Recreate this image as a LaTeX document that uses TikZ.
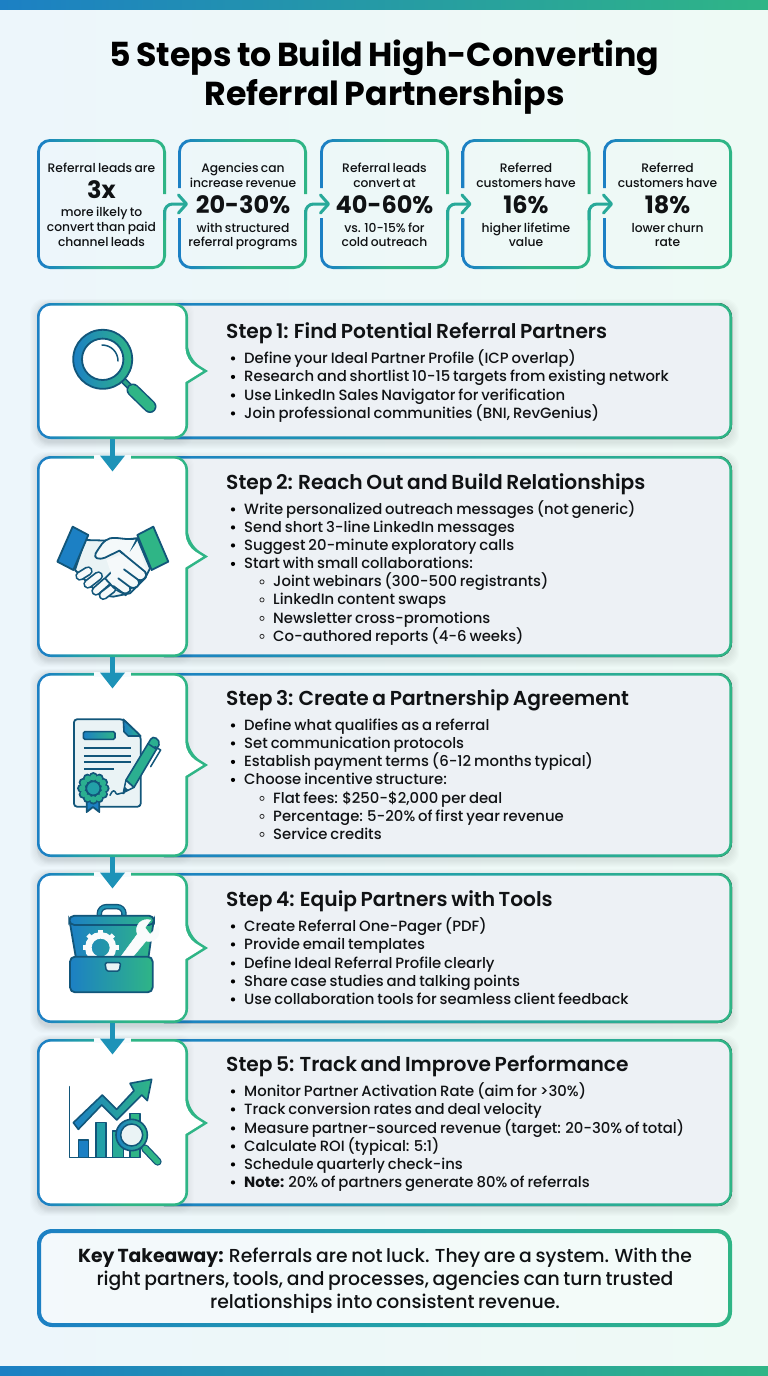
\documentclass[tikz,border=0pt]{standalone}
\usepackage{fontspec}
\usetikzlibrary{arrows.meta,calc}
\setmainfont{Poppins Medium}[BoldFont=Poppins Bold,WordSpace=0.75]
\newfontfamily\semib{Poppins SemiBold}[WordSpace=0.75]
\newfontfamily\boldf{Poppins Bold}[WordSpace=0.75]
\definecolor{cb}{HTML}{1C80C4}
\definecolor{cm}{HTML}{22A0A8}
\definecolor{cg}{HTML}{2FB586}
\definecolor{ico}{HTML}{12567A}
\definecolor{stemc}{HTML}{1E93B8}
\definecolor{lite}{HTML}{EAF3F5}
\definecolor{cardc}{HTML}{EDF1F5}
\definecolor{txt}{HTML}{101214}
\definecolor{bgl}{HTML}{EDF6FB}
\definecolor{bgr}{HTML}{EEFAF5}
\pgfdeclarehorizontalshading{wide}{100bp}{color(0bp)=(cb); color(25bp)=(cb); color(50bp)=(cm); color(75bp)=(cg); color(100bp)=(cg)}
\pgfdeclarehorizontalshading{tight}{100bp}{color(0bp)=(cb); color(27bp)=(cb); color(38bp)=(cm); color(52bp)=(cg); color(100bp)=(cg)}
\pgfdeclarehorizontalshading{icon}{100bp}{color(0bp)=(cb); color(25bp)=(cb); color(75bp)=(cg); color(100bp)=(cg)}
\tikzset{
 stattxt/.style={anchor=base,font=\fontsize{12.3}{14}\selectfont,text=txt,inner sep=0pt},
 statnum/.style={anchor=base,font=\boldf\fontsize{24}{28}\selectfont,text=txt,inner sep=0pt},
 stepttl/.style={anchor=base west,font=\semib\fontsize{20.2}{24}\selectfont,text=txt,inner sep=0pt},
 buline/.style={anchor=base west,font=\fontsize{14.85}{18}\selectfont,text=txt,inner sep=0pt},
 keytxt/.style={anchor=base,font=\fontsize{18.8}{23}\selectfont,text=txt,inner sep=0pt},
 ttl/.style={anchor=base,font=\boldf\fontsize{33.2}{38}\selectfont,text=black,inner sep=0pt},
 holder/.style={inner sep=0pt,outer sep=0pt,draw=none},
 statarrow/.style={draw=cm!55!cg,line width=3pt,rounded corners=8pt,-{Straight Barb[length=8pt,width=18pt,line cap=round,line join=round]}},
 stemarrow/.style={draw=stemc,line width=5.5pt,-{Triangle[length=16pt,width=24pt]}},
 dk/.style={draw=ico,line width=1.8pt,line join=round,line cap=round},
}
\newcommand\softshadow[5]{\foreach \d in {1,...,7}{\fill[black,opacity=.011,rounded corners=#5] ({#1-\d},{#2-\d+3}) rectangle ({#3+\d},{#4+\d+3});}}
\newcommand\panelfill[5]{%
 \pgfmathsetmacro\pr{14+#2}\pgfmathsetmacro\pxr{188+#2}\pgfmathsetmacro\pxl{37-#2}%
 \pgfmathsetmacro\pt{#3-#2}\pgfmathsetmacro\pb{#4+#2}%
 \pgfmathsetmacro\pa{#5-12.5-.554*#2}\pgfmathsetmacro\pc{#5+12.5+.554*#2}\pgfmathsetmacro\pcc{\pc+.01}%
 \pgfmathsetmacro\ptip{208+1.887*#2}%
 \path[#1] (100,\pt) [rounded corners=\pr pt] -- (\pxr,\pt) -- (\pxr,\pa) [sharp corners] -- (\ptip,#5) -- (\pxr,\pc) -- (\pxr,\pcc) [rounded corners=\pr pt] -- (\pxr,\pb) -- (\pxl,\pb) -- (\pxl,\pt) -- cycle;}
% step card: name, top, bottom, notch centre
\newcommand\stepcard[4]{%
 \softshadow{37}{#2}{732}{#3}{14}%
 \fill[shading=wide,rounded corners=14pt] (150,#2) rectangle (732,#3);
 \fill[cardc,rounded corners=11.5pt] (100,{#2+2.6}) rectangle (729.4,{#3-2.6});
 \foreach \d in {1,...,6}{\fill[black,opacity=.008,rounded corners=14pt] (37,{#2-\d+2}) rectangle ({188+\d},{#3+\d+2});}
 \panelfill{shading=tight}{0}{#2}{#3}{#4}%
 \panelfill{fill=white}{-2.6}{#2}{#3}{#4}%
 \node[holder,minimum width=151pt,minimum height={#3-#2}] (#1) at (112.5,{(#2+#3)/2}) {};}
\newcommand\bu[3]{\fill[black] (233,{#2-4.6}) circle (2.1pt); \node[buline] (#1) at (244,#2) {#3};}
\newcommand\su[3]{\draw[black!80,line width=.8pt] (262,{#2-4.6}) circle (2.1pt); \node[buline] (#1) at (273,#2) {#3};}
\newcommand\statbox[3]{\node[holder,minimum width=129pt,minimum height=130pt] (#1) at (#2,#3) {};}
\begin{document}
\begin{tikzpicture}[x=1pt,y=-1pt]
\useasboundingbox (0,0) rectangle (768,1376);
\shade[left color=bgl,right color=bgr] (0,0) rectangle (768,1376);
\fill[shading=icon] (0,0) rectangle (768,9);
\fill[shading=icon] (0,1366) rectangle (768,1376);
% title
\node[ttl] (title1) at (384.5,66) {5 Steps to Build High-Converting};
\node[ttl] (title2) at (384.5,105) {Referral Partnerships};
% stat boxes
\statbox{s1}{101.5}{204}\statbox{s2}{242.5}{204}\statbox{s3}{384.5}{204}\statbox{s4}{526}{204}\statbox{s5}{667.5}{204}
\begin{scope}[even odd rule]
\clip (0,0) rectangle (768,1376)
 (160,194) rectangle (170,210) (174,188) rectangle (183,218)
 (301,194) rectangle (311,210) (316,188) rectangle (325,218)
 (443,194) rectangle (453,210) (457,188) rectangle (466,218)
 (584,194) rectangle (594,210) (599,188) rectangle (608,218);
\foreach \a/\b in {37/166,178/307,320/449,461.5/590.5,603/732}{
 \path[shading=tight,even odd rule] (\a,139) [rounded corners=13pt] rectangle (\b,269) [rounded corners=10.5pt] ({\a+2.8},141.8) rectangle ({\b-2.8},266.2);
}
\end{scope}
\draw[statarrow] ($(s1.east)+(-1.4,16)$) -- ($(s1.east)+(-1.4,0)$) -- ($(s2.west)+(10,0)$);
\draw[statarrow] ($(s2.east)+(-1.4,16)$) -- ($(s2.east)+(-1.4,0)$) -- ($(s3.west)+(10,0)$);
\draw[statarrow] ($(s3.east)+(-1.4,16)$) -- ($(s3.east)+(-1.4,0)$) -- ($(s4.west)+(10,0)$);
\draw[statarrow] ($(s4.east)+(-1.4,16)$) -- ($(s4.east)+(-1.4,0)$) -- ($(s5.west)+(10,0)$);
% stat text
\node[stattxt] (a1) at (101.5,172) {Referral leads are};
\node[statnum] (a2) at (101.5,198) {3x};
\node[stattxt] (a3) at (101.5,216.5) {more ilkely to};
\node[stattxt] (a4) at (101.5,231.5) {convert than paid};
\node[stattxt] (a5) at (101.5,246) {channel leads};
\node[stattxt] (b1) at (243,172) {Agencies can};
\node[stattxt] (b2) at (243,187) {increase revenue};
\node[statnum] (b3) at (243,213.5) {20-30\%};
\node[stattxt] (b4) at (243,232) {with structured};
\node[stattxt] (b5) at (243,246.5) {referral programs};
\node[stattxt] (c1) at (384.5,172) {Referral leads};
\node[stattxt] (c2) at (384.5,187) {convert at};
\node[statnum] (c3) at (384.5,213.5) {40-60\%};
\node[stattxt] (c4) at (384.5,232) {vs. 10-15\% for};
\node[stattxt] (c5) at (384.5,246.5) {cold outreach};
\node[stattxt] (d1) at (526,172) {Referred};
\node[stattxt] (d2) at (526,187) {customers have};
\node[statnum] (d3) at (526,213.5) {16\%};
\node[stattxt] (d4) at (526,232) {higher lifetime};
\node[stattxt] (d5) at (526,246.5) {value};
\node[stattxt] (e1) at (667.5,172) {Referred};
\node[stattxt] (e2) at (667.5,187) {customers have};
\node[statnum] (e3) at (667.5,213.5) {18\%};
\node[stattxt] (e4) at (667.5,232) {lower churn};
\node[stattxt] (e5) at (667.5,246.5) {rate};
% step cards
\stepcard{p1}{303}{439}{371}
\stepcard{p2}{456}{657}{556.5}
\stepcard{p3}{673}{857}{765}
\stepcard{p4}{873}{1023}{948}
\stepcard{p5}{1039}{1206}{1123}
% gaps + connectors
\foreach \y in {456,673,873,1039}{\fill[white!55!bgl] (94,{\y-1.5}) rectangle (131,{\y+3.5});}
\draw[stemarrow] (p1.south) -- ($(p2.north)+(0,15.5)$);
\draw[stemarrow] (p2.south) -- ($(p3.north)+(0,15.5)$);
\draw[stemarrow] (p3.south) -- ($(p4.north)+(0,15.5)$);
\draw[stemarrow] (p4.south) -- ($(p5.north)+(0,15.5)$);
% step 1
\node[stepttl] (t1) at (226,338) {Step 1: Find Potential Referral Partners};
\bu{t1a}{363}{Define your Ideal Partner Profile (ICP overlap)}
\bu{t1b}{381.5}{Research and shortlist 10-15 targets from existing network}
\bu{t1c}{400}{Use LinkedIn Sales Navigator for verification}
\bu{t1d}{418}{Join professional communities (BNI, RevGenius)}
% step 2
\node[stepttl] (t2) at (226,489) {Step 2: Reach Out and Build Relationships};
\bu{t2a}{514}{Write personalized outreach messages (not generic)}
\bu{t2b}{532}{Send short 3-line LinkedIn messages}
\bu{t2c}{550}{Suggest 20-minute exploratory calls}
\bu{t2d}{568.5}{Start with small collaborations:}
\su{t2e}{586.5}{Joint webinars (300-500 registrants)}
\su{t2f}{604.5}{LinkedIn content swaps}
\su{t2g}{623}{Newsletter cross-promotions}
\su{t2h}{641}{Co-authored reports (4-6 weeks)}
% step 3
\node[stepttl] (t3) at (226,705) {Step 3: Create a Partnership Agreement};
\bu{t3a}{730}{Define what qualifies as a referral}
\bu{t3b}{748}{Set communication protocols}
\bu{t3c}{766.5}{Establish payment terms (6-12 months typical)}
\bu{t3d}{784.5}{Choose incentive structure:}
\su{t3e}{803}{Flat fees: \$250-\$2,000 per deal}
\su{t3f}{821}{Percentage: 5-20\% of first year revenue}
\su{t3g}{839}{Service credits}
% step 4
\node[stepttl] (t4) at (226,906) {Step 4: Equip Partners with Tools};
\bu{t4a}{931}{Create Referral One-Pager (PDF)}
\bu{t4b}{949}{Provide email templates}
\bu{t4c}{968}{Define Ideal Referral Profile clearly}
\bu{t4d}{986}{Share case studies and talking points}
\bu{t4e}{1004}{Use collaboration tools for seamless client feedback}
% step 5
\node[stepttl] (t5) at (226,1071) {Step 5: Track and Improve Performance};
\bu{t5a}{1096}{Monitor Partner Activation Rate (aim for >30\%)}
\bu{t5b}{1114}{Track conversion rates and deal velocity}
\bu{t5c}{1133}{Measure partner-sourced revenue (target: 20-30\% of total)}
\bu{t5d}{1151}{Calculate ROI (typical: 5:1)}
\bu{t5e}{1169}{Schedule quarterly check-ins}
\bu{t5f}{1187}{\textbf{Note:} 20\% of partners generate 80\% of referrals}
% takeaway
\fill[white,opacity=.35,rounded corners=14pt] (37,1229) rectangle (732,1327);
\path[shading=wide,even odd rule] (37,1229) [rounded corners=15pt] rectangle (732,1327) [rounded corners=11pt] (41,1233) rectangle (728,1323);
\node[keytxt] (k1) at (385,1262) {\textbf{Key Takeaway:} Referrals are not luck. They are a system. With the};
\node[keytxt] (k2) at (385,1285) {right partners, tools, and processes, agencies can turn trusted};
\node[keytxt] (k3) at (385,1308) {relationships into consistent revenue.};
% ICON magnifier
\draw[ico,line width=6.5pt] (122,379) -- (133,390);
\draw[cg!80!ico,line width=3.5pt] (122,379) -- (133,390);
\draw[ico,line width=13pt,line cap=round] (133,390) -- (150,406.5);
\draw[cg,line width=10pt,line cap=round] (133,390) -- (150,406.5);
\path[shading=icon,draw=ico,line width=1.8pt] (102.7,359.3) circle (29.5pt);
\fill[white,draw=ico,line width=1.8pt] (102.7,359.3) circle (20.7pt);
\draw[ico,line width=1.5pt,line cap=round] (102,345) .. controls (111,345) and (118,352) .. (118,361);
% ICON handshake
\begin{scope}[shift={(50,510)},x=.3333pt,y=-.3333pt]
\filldraw[fill=lite,dk] (105,90) -- (180,92) -- (262,85) -- (300,175) -- (285,205) -- (240,250) -- (190,260) -- (150,255) -- (75,180) -- cycle;
\foreach \a/\b/\c/\d in {90/198/114/183,114/222/145/198,138/243/170/215,160/256/186/236}{
 \draw[ico,line width=9.5pt,line cap=round] (\a,\b) -- (\c,\d);
 \draw[white!50!lite,line width=6pt,line cap=round] (\a,\b) -- (\c,\d);
}
\filldraw[fill=white!50!lite,dk,line width=1.8pt] (262,85) .. controls (225,92) and (205,80) .. (180,85) .. controls (160,90) and (150,110) .. (137,130) .. controls (130,145) and (145,150) .. (165,143) -- (208,122) -- (285,185) .. controls (295,195) and (285,215) .. (265,210) .. controls (275,225) and (255,240) .. (240,232) .. controls (245,250) and (225,262) .. (190,232) -- (165,205) -- (240,130) -- cycle;
\fill[white!50!lite] (170,150) -- (240,125) -- (262,95) -- (290,185) -- (200,240) -- cycle;
\draw[dk] (208,122) -- (285,185) .. controls (295,195) and (285,215) .. (265,210);
\draw[dk] (222,178) -- (272,215);
\draw[dk] (205,205) -- (245,235);
\draw[dk] (190,228) -- (228,256);
\filldraw[fill=cb,dk] (68,50) -- (115,75) -- (70,180) -- (22,155) -- cycle;
\filldraw[fill=cg,dk] (310,50) -- (262,75) -- (305,180) -- (355,155) -- cycle;
\end{scope}
% ICON contract
\begin{scope}[shift={(60,710)},x=.3333pt,y=-.3333pt]
\filldraw[fill=lite,dk,rounded corners=3pt] (130,290) -- (42,290) -- (42,28) -- (190,28) -- (242,78) -- (242,290) -- (130,290);
\path[shading=icon,draw=ico,line width=1.6pt,line join=round] (190,28) -- (242,78) -- (205,78) -- (192,65) -- cycle;
\path[shading=icon,draw=ico,line width=1.6pt,rounded corners=1.5pt] (70,65) rectangle (165,88);
\foreach \y/\e in {115/212,137/212,157/212,177/162}{\draw[ico,line width=1.8pt] (72,\y) -- (\e,\y);}
\filldraw[fill=cb,dk] (80,260) -- (80,306) -- (99,291) -- (118,306) -- (118,260) -- cycle;
\foreach \a in {0,30,...,330}{\fill[ico] (100,235)+(\a:36) circle (4.3pt);}
\fill[ico] (100,235) circle (36);
\foreach \a in {0,30,...,330}{\fill[cg!70!cm] (100,235)+(\a:33) circle (3.3pt);}
\filldraw[fill=cm,dk,line width=1.6pt] (100,235) circle (21);
\draw[dk,line width=1.5pt] (150,256) .. controls (158,238) and (164,240) .. (168,250) .. controls (172,258) and (180,246) .. (192,250);
% pen
\filldraw[fill=lite,dk,line width=1.5pt] (190,248) -- (198,210) -- (222,232) -- cycle;
\fill[ico] (190,248) -- (194,230) -- (205,240) -- cycle;
\filldraw[fill=cg!70!cm,dk,line width=1.6pt] (198,210) -- (272,88) .. controls (278,74) and (302,88) .. (297,105) -- (222,232) -- cycle;
\draw[dk,line width=1.5pt] (264,101) -- (290,118);
\draw[dk,line width=1.5pt] (285,110) -- (302,120) -- (272,170);
\end{scope}
% ICON toolbox
\begin{scope}[shift={(60,895)},x=.3333pt,y=-.3333pt]
\draw[ico,line width=5.5pt,rounded corners=7pt] (118,65) -- (118,35) -- (192,35) -- (192,65);
\draw[cm!60!cb,line width=2.8pt,rounded corners=7pt] (118,65) -- (118,35) -- (192,35) -- (192,65);
\path[shading=icon,draw=ico,line width=1.8pt,line join=round] (30,85) -- (48,190) -- (265,190) -- (280,85) -- cycle;
\path[shading=icon,draw=ico,line width=1.8pt,rounded corners=5pt] (28,90) -- (28,62) -- (282,62) -- (282,90) -- cycle;
\begin{scope}
\clip (0,0) rectangle (330,186);
\foreach \a in {0,45,...,315}{\draw[white!70!lite,line width=4.5pt] (122,158)+(\a:35) -- +(\a:54);}
\draw[white!70!lite,line width=6.5pt] (122,158) circle (37);
\end{scope}
\filldraw[fill=white!70!lite,draw=white!70!lite,line join=round,line width=.5pt] (182,186) -- (232,118) .. controls (222,90) and (245,68) .. (272,75) -- (255,98) -- (270,118) -- (295,95) .. controls (305,125) and (280,145) .. (258,138) -- (218,186) -- cycle;
\path[shading=icon,draw=ico,line width=1.8pt,rounded corners=5pt] (30,185) rectangle (278,292);
\filldraw[fill=lite,dk,line width=1.5pt,rounded corners=1.5pt] (135,203) -- (182,203) -- (178,228) -- (139,228) -- cycle;
\end{scope}
% ICON chart
\begin{scope}[shift={(60,1070)},x=.3333pt,y=-.3333pt]
\foreach \a/\t/\b/\cc in {55/210/85/cb,108/158/138/cm,157/183/190/cm!50!cg,210/130/240/cg}{
 \filldraw[fill=\cc,dk,line width=1.3pt] (\a,262) -- (\a,\t) -- (\b,\t) -- (\b,262);}
\draw[dk,line width=1.6pt] (28,50) -- (28,262) -- (240,262);
\path[shading=icon,draw=ico,line width=1.6pt,line join=round] (40,158) -- (127,75) -- (170,118) -- (222,62) -- (210,40) -- (275,28) -- (262,92) -- (245,75) -- (170,150) -- (125,105) -- (55,178) -- cycle;
\draw[ico,line width=8pt,line cap=round] (255,235) -- (293,275);
\draw[cg,line width=5.5pt,line cap=round] (255,235) -- (293,275);
\path[shading=icon,draw=ico,line width=1.6pt] (215,195) circle (47);
\filldraw[fill=lite,draw=ico,line width=1.5pt] (215,195) circle (33);
\end{scope}
\end{tikzpicture}
\end{document}
